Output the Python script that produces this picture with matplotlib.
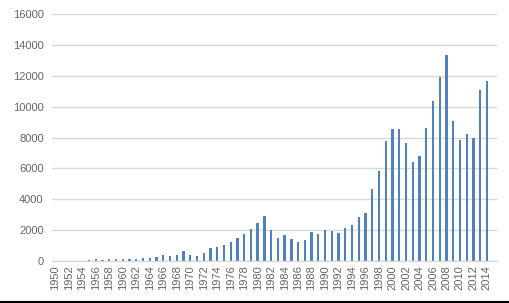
import matplotlib
matplotlib.use('Agg')
import matplotlib.pyplot as plt
import numpy as np

# yearly counts (2015 slot is empty in the source)
years = list(range(1950, 2016))
values = [0, 0, 0, 0, 0, 50, 100, 60, 100, 130,
          150, 130, 150, 170, 200, 280, 410, 300, 410, 630,
          370, 300, 540, 830, 890, 1020, 1220, 1480, 1780, 2070,
          2460, 2910, 2000, 1480, 1670, 1410, 1260, 1350, 1910, 1780,
          2000, 1960, 1830, 2130, 2330, 2830, 3110, 4670, 5850, 7780,
          8540, 8565, 7650, 6410, 6800, 8630, 10340, 11910, 13320, 9040,
          7850, 8220, 8000, 11050, 11640, 0]
yticks = list(range(0, 16001, 2000))

barcol = '#4F81BD'
gridcol = '#D9D9D9'
txtcol = '#666666'

plt.rcParams['font.family'] = ['Liberation Sans', 'DejaVu Sans']

fig = plt.figure(figsize=(5.10, 3.03), dpi=100)
ax = fig.add_axes([52/510, 1-261/303, 445/510, 247/303])

x = np.arange(len(years))
ax.bar(x, values, width=0.34, color=barcol, zorder=2)

ax.set_xlim(-0.5, len(years)-0.5)
ax.set_ylim(0, 16000)
ax.set_yticks(yticks)
ax.set_yticklabels([str(t) for t in yticks])
ax.yaxis.grid(True, color=gridcol, lw=1)
ax.set_axisbelow(True)

ax.set_xticks(x[::2])
ax.set_xticklabels([str(y) for y in years[::2]], rotation=90)
ax.tick_params(axis='both', length=0, colors=txtcol, labelsize=8)
ax.tick_params(axis='x', pad=3)
ax.tick_params(axis='y', pad=6)

for s in ['top', 'right', 'left']:
    ax.spines[s].set_visible(False)
ax.spines['bottom'].set_color(gridcol)
ax.spines['bottom'].set_linewidth(1)

# black rule along the bottom edge of the image
fig.add_artist(plt.Line2D([0, 1], [1/303, 1/303], color='k', lw=1.5,
                          transform=fig.transFigure))

fig.savefig('out.png', dpi=100, facecolor='white')
